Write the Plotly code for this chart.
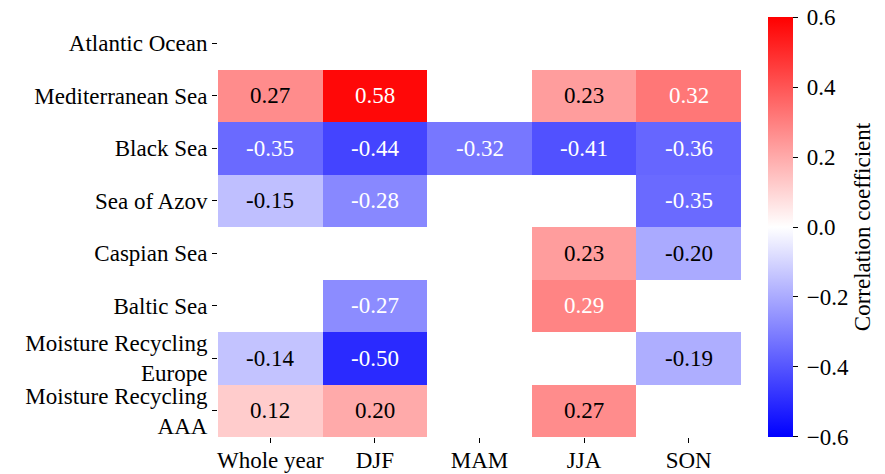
import plotly.graph_objects as go

columns = ["Whole year", "DJF", "MAM", "JJA", "SON"]
regions = ["Atlantic Ocean", "Mediterranean Sea", "Black Sea", "Sea of Azov",
           "Caspian Sea", "Baltic Sea", "Moisture Recycling<br>Europe",
           "Moisture Recycling<br>AAA"]

atlantic = [None, None, None, None, None]
mediterranean = [0.27, 0.58, None, 0.23, 0.32]
black_sea = [-0.35, -0.44, -0.32, -0.41, -0.36]
azov = [-0.15, -0.28, None, None, -0.35]
caspian = [None, None, None, 0.23, -0.20]
baltic = [None, -0.27, None, 0.29, None]
mr_europe = [-0.14, -0.50, None, None, -0.19]
mr_aaa = [0.12, 0.20, None, 0.27, None]

cbar_ticks = [-0.6, -0.4, -0.2, 0.0, 0.2, 0.4, 0.6]

z = [atlantic, mediterranean, black_sea, azov, caspian, baltic, mr_europe, mr_aaa]
VMIN, VMAX = -0.6, 0.6
FONT = "Liberation Serif"
FS = 23


def bwr(v):
    t = (v - VMIN) / (VMAX - VMIN)
    t = min(max(t, 0), 1)
    if t < 0.5:
        s = t / 0.5
        return (s, s, 1.0)
    s = (t - 0.5) / 0.5
    return (1.0, 1 - s, 1 - s)


def lum(rgb):
    def lin(c):
        return c / 12.92 if c <= 0.03928 else ((c + 0.055) / 1.055) ** 2.4
    r, g, b = rgb
    return 0.2126 * lin(r) + 0.7152 * lin(g) + 0.0722 * lin(b)


# nudge end ticks inward by a hair so plotly does not drop them at the range edge
cbar_tickpos = [t * 0.9999 for t in cbar_ticks]

fig = go.Figure(go.Heatmap(
    z=z, x=columns, y=regions,
    zmin=VMIN, zmax=VMAX,
    colorscale=[[0, "rgb(0,0,255)"], [0.5, "rgb(255,255,255)"], [1, "rgb(255,0,0)"]],
    hoverongaps=False,
    colorbar=dict(
        x=1.051, xanchor="left", xref="paper",
        y=0.5, yanchor="middle", len=1.0, lenmode="fraction", ypad=0, xpad=0,
        thickness=25, thicknessmode="pixels",
        outlinewidth=0, ticks="outside", ticklen=5, tickwidth=1, tickcolor="black",
        ticklabeloverflow="allow",
        tickvals=cbar_tickpos,
        ticktext=["\u2009" + ("\u2212" if t < 0 else "") + f"{abs(t):.1f}" for t in cbar_ticks],
        tickfont=dict(family=FONT, size=FS, color="black"),
        title=dict(text="Correlation coefficient", side="right",
                   font=dict(family=FONT, size=FS, color="black")),
    ),
))

annotations = []
for i, row in enumerate(z):
    for j, v in enumerate(row):
        if v is None:
            continue
        col = "black" if lum(bwr(v)) > 0.408 else "white"
        annotations.append(dict(
            x=columns[j], y=regions[i], xref="x", yref="y",
            text=f"{v:.2f}", showarrow=False,
            font=dict(family=FONT, size=FS, color=col),
        ))

fig.update_layout(
    width=877, height=466,
    margin=dict(l=210, r=144, t=9, b=37, pad=0, autoexpand=False),
    paper_bgcolor="white", plot_bgcolor="white",
    annotations=annotations,
    font=dict(family=FONT, size=FS, color="black"),
)
fig.update_xaxes(showgrid=False, zeroline=False, showline=False, automargin=False,
                 ticks="outside", ticklen=5, tickwidth=1, tickcolor="black",
                 ticklabelstandoff=-3,
                 tickfont=dict(family=FONT, size=FS, color="black"))
fig.update_yaxes(showgrid=False, zeroline=False, showline=False, autorange="reversed",
                 automargin=False,
                 ticks="outside", ticklen=5, tickwidth=1, tickcolor="black",
                 tickfont=dict(family=FONT, size=FS, color="black"))

fig.write_html("out.html")
